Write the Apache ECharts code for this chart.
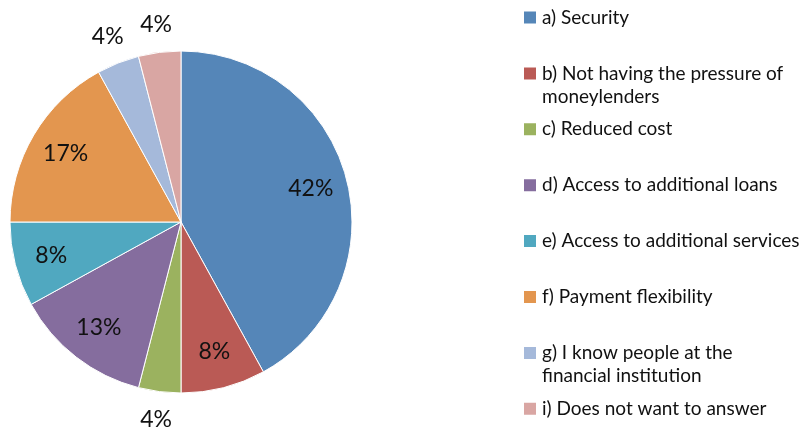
<!DOCTYPE html>
<html>
<head>
<meta charset="utf-8">
<script src="https://cdn.jsdelivr.net/npm/echarts@6/dist/echarts.min.js"></script>
<style>
  html, body { margin: 0; padding: 0; background: #fff; }
  #chart { width: 811px; height: 430px; }
</style>
</head>
<body>
<div id="chart"></div>
<script>
// Reasons for choosing the institution (share of respondents, %)
const categories = [
  'a) Security',
  'b) Not having the pressure of moneylenders',
  'c) Reduced cost',
  'd) Access to additional loans',
  'e) Access to additional services',
  'f) Payment flexibility',
  'g) I know people at the financial institution',
  'i) Does not want to answer'
];
const legendLabels = [
  'a) Security',
  'b) Not having the pressure of\nmoneylenders',
  'c) Reduced cost',
  'd) Access to additional loans',
  'e) Access to additional services',
  'f) Payment flexibility',
  'g) I know people at the\nfinancial institution',
  'i) Does not want to answer'
];
const shares = [42, 8, 4, 13, 8, 17, 4, 4];
// small slices carry their percentage outside the pie
const labelOutside = [false, false, true, false, false, false, true, true];

const colors = ['#5586b8', '#ba5a55', '#9bb25f', '#856d9e', '#50a8c0', '#e3964f', '#a5b9da', '#d9a6a3'];

const FONT = 'Lato, "Open Sans", sans-serif';
const center = [181, 222];
const R = 171;

const chart = echarts.init(document.getElementById('chart'), null, { renderer: 'canvas' });

const pieData = categories.map((name, i) => ({ name, value: shares[i] }));

function labelSeries(radius, outside) {
  return {
    type: 'pie',
    center,
    radius,
    startAngle: 90,
    clockwise: true,
    silent: true,
    legendHoverLink: false,
    animation: false,
    itemStyle: { color: 'rgba(0,0,0,0)', borderWidth: 0 },
    emphasis: { disabled: true },
    labelLine: { show: false },
    data: pieData.map((d, i) => ({
      name: d.name,
      value: d.value,
      label: { show: labelOutside[i] === outside }
    })),
    label: {
      position: 'inside',
      formatter: p => p.value + '%',
      color: '#111',
      fontFamily: FONT,
      fontSize: 23
    }
  };
}

// one legend per entry so the rows keep an even pitch whatever their line count;
// wrapped entries get a blank leading line so the marker sits beside their first line
const rowPitch = 55.9, firstRow = 17.5, lineH = 23;
const legends = categories.map((name, i) => {
  const twoLine = legendLabels[i].indexOf('\n') >= 0;
  const rowCenter = firstRow + i * rowPitch;
  const text = twoLine ? ' \n' + legendLabels[i] : legendLabels[i];
  return {
    data: [name],
    left: 522,
    top: rowCenter - (twoLine ? lineH * 1.5 : lineH / 2),
    orient: 'vertical',
    padding: 0,
    itemWidth: 14,
    itemHeight: 14,
    icon: 'rect',
    selectedMode: false,
    formatter: () => text,
    textStyle: {
      fontFamily: FONT,
      fontSize: 19,
      color: '#111',
      lineHeight: lineH
    }
  };
});

chart.setOption({
  backgroundColor: '#fff',
  color: colors,
  animation: false,
  legend: legends,
  series: [
    {
      type: 'pie',
      center,
      radius: [0, R],
      startAngle: 90,
      clockwise: true,
      label: { show: false },
      labelLine: { show: false },
      itemStyle: { borderColor: '#fff', borderWidth: 1 },
      emphasis: { scale: false },
      data: pieData
    },
    labelSeries([92, 170], false),
    labelSeries([180, 212], true)
  ]
});
</script>
</body>
</html>
